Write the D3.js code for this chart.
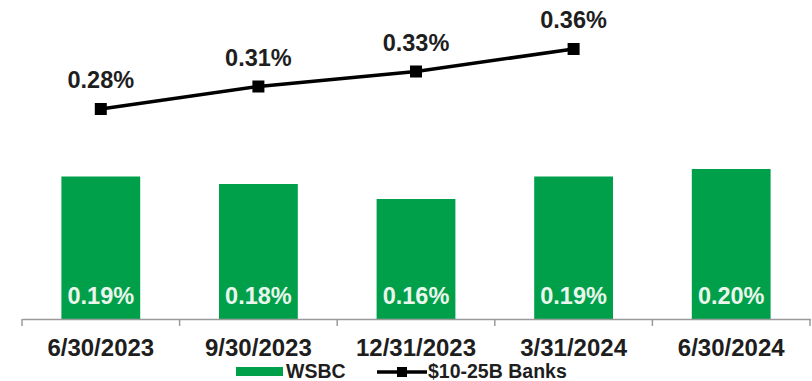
<!DOCTYPE html>
<html>
<head>
<meta charset="utf-8">
<script src="https://cdn.jsdelivr.net/npm/d3@7"></script>
<style>
  html, body { margin: 0; padding: 0; background: #fff; }
  svg { display: block; font-family: "Liberation Sans", Arial, sans-serif; font-weight: bold; }
</style>
</head>
<body>
<svg id="chart" width="812" height="381"></svg>
<script>
// Quarter-end dates on the x axis
const categories = ["6/30/2023", "9/30/2023", "12/31/2023", "3/31/2024", "6/30/2024"];
// WSBC ratio (%) drawn as bars
const wsbcValues = [0.19, 0.18, 0.16, 0.19, 0.20];
// Peer group ratio (%) drawn as a line; no value for the last quarter yet
const peerValues = [0.28, 0.31, 0.33, 0.36];
const seriesNames = ["WSBC", "$10-25B Banks"];

const svg = d3.select("#chart");
const green = "#00a04b";
const ink = "#1e1e1e";

const left = 22, right = 810, baseY = 319, topY = 19;

// Category bands (full width, used for axis ticks and centers)
const xAxisScale = d3.scaleBand().domain(categories).range([left, right]).padding(0);
// Bars occupy roughly half of each category slot
const xBar = d3.scaleBand().domain(categories).range([left, right])
  .paddingInner(0.5).paddingOuter(0.25);
const y = d3.scaleLinear().domain([0, 0.4]).range([baseY, topY]);

const center = c => xAxisScale(c) + xAxisScale.bandwidth() / 2;
const fmt = v => v.toFixed(2) + "%";

// Bars
svg.append("g").selectAll("rect")
  .data(wsbcValues)
  .join("rect")
  .attr("x", (d, i) => xBar(categories[i]))
  .attr("y", d => y(d))
  .attr("width", xBar.bandwidth())
  .attr("height", d => y(0) - y(d))
  .attr("fill", green);

// Bar value labels inside the bars, near the base
svg.append("g").selectAll("text")
  .data(wsbcValues)
  .join("text")
  .attr("x", (d, i) => center(categories[i]))
  .attr("y", baseY - 15)
  .attr("text-anchor", "middle")
  .attr("font-size", 23.5)
  .attr("fill", "#eaf6ec")
  .text(d => fmt(d));

// X axis: baseline, tick marks at category boundaries, labels
const axis = d3.axisBottom(xAxisScale).tickSize(0).tickPadding(20);
const gAxis = svg.append("g").attr("transform", `translate(0,${baseY})`).call(axis);
gAxis.select(".domain").attr("stroke", "#9a9a9a").attr("stroke-width", 1.5);
gAxis.selectAll(".tick text")
  .attr("font-size", 24)
  .attr("font-family", "'Liberation Sans', Arial, sans-serif")
  .attr("font-weight", "bold")
  .attr("fill", ink);
const boundaries = categories.map(c => xAxisScale(c)).concat([xAxisScale.range()[1]]);
gAxis.selectAll(".bound")
  .data(boundaries)
  .join("line")
  .attr("class", "bound")
  .attr("x1", d => d).attr("x2", d => d)
  .attr("y1", 0).attr("y2", 7)
  .attr("stroke", "#9a9a9a").attr("stroke-width", 1.5);

// Peer line
const line = d3.line()
  .x((d, i) => center(categories[i]))
  .y(d => y(d));
svg.append("path")
  .datum(peerValues)
  .attr("d", line)
  .attr("fill", "none")
  .attr("stroke", "#000")
  .attr("stroke-width", 3.5)
  .attr("stroke-linejoin", "round");

const mk = 12;
svg.append("g").selectAll("rect")
  .data(peerValues)
  .join("rect")
  .attr("x", (d, i) => center(categories[i]) - mk / 2)
  .attr("y", d => y(d) - mk / 2)
  .attr("width", mk).attr("height", mk)
  .attr("fill", "#000");

svg.append("g").selectAll("text")
  .data(peerValues)
  .join("text")
  .attr("x", (d, i) => center(categories[i]))
  .attr("y", d => y(d) - 21)
  .attr("text-anchor", "middle")
  .attr("font-size", 23.5)
  .attr("fill", ink)
  .text(d => fmt(d));

// Legend
const lg = svg.append("g");
lg.append("rect").attr("x", 236).attr("y", 367).attr("width", 47).attr("height", 9).attr("fill", green);
lg.append("text").attr("x", 286).attr("y", 378).attr("font-size", 19.5).attr("fill", ink).text(seriesNames[0]);
lg.append("line").attr("x1", 377).attr("x2", 427).attr("y1", 372).attr("y2", 372)
  .attr("stroke", "#000").attr("stroke-width", 3.5);
lg.append("rect").attr("x", 397).attr("y", 367).attr("width", 10).attr("height", 10).attr("fill", "#000");
lg.append("text").attr("x", 428).attr("y", 378).attr("font-size", 19.5).attr("fill", ink).text(seriesNames[1]);
</script>
</body>
</html>
